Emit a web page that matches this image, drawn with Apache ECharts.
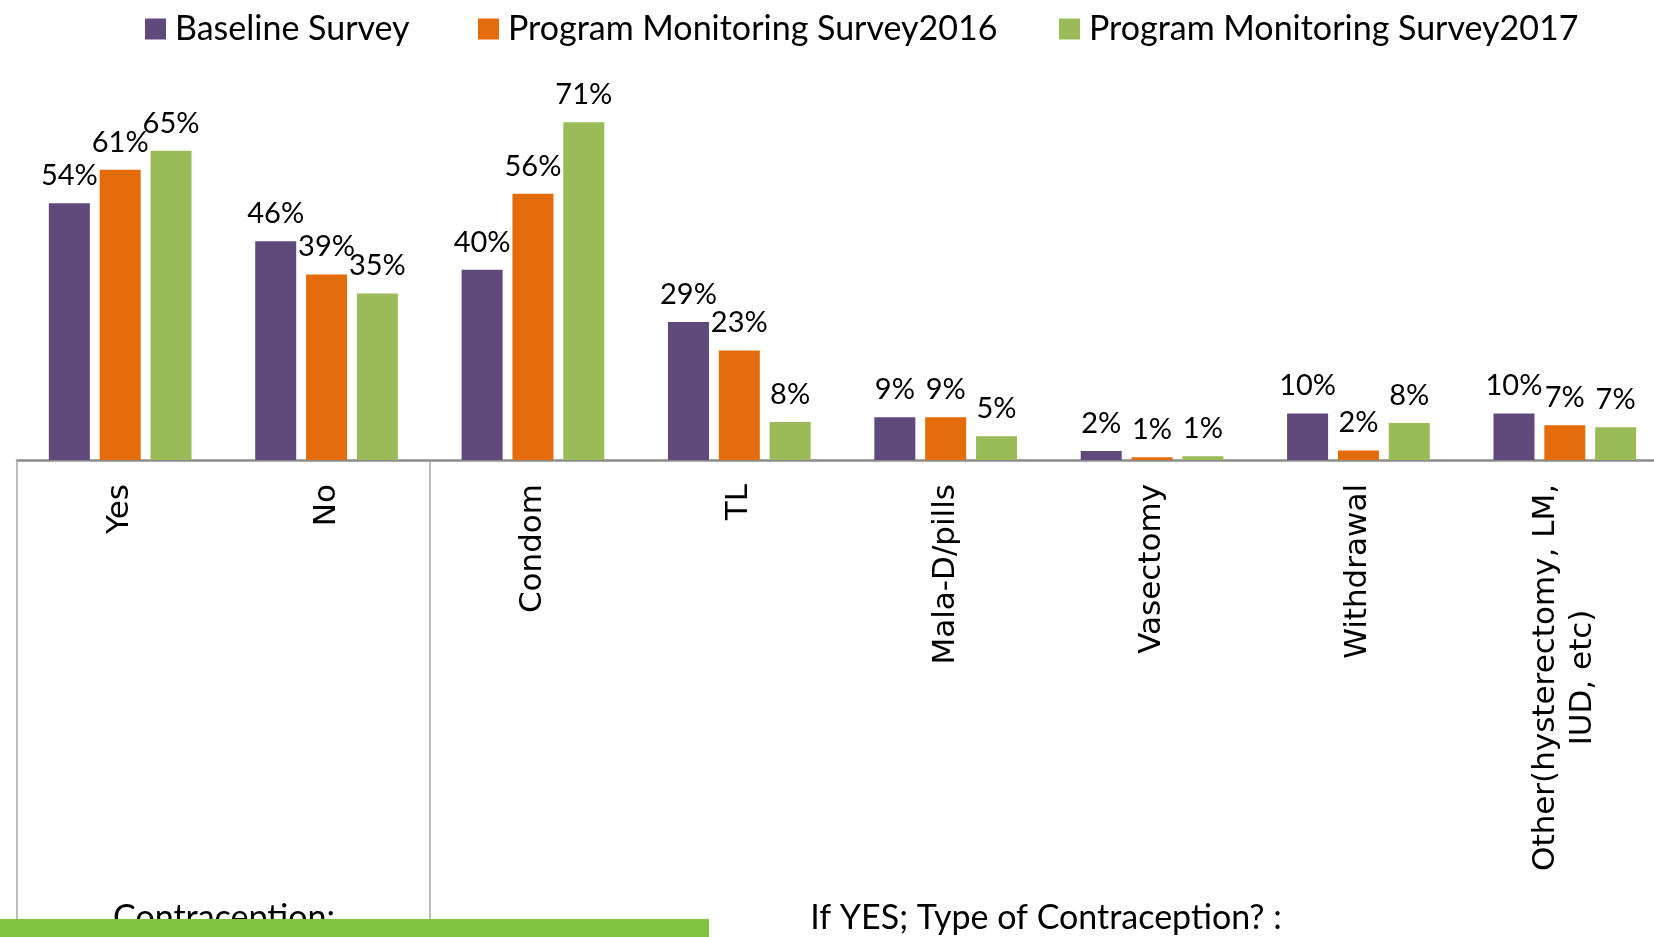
<!DOCTYPE html>
<html>
<head>
<meta charset="utf-8">
<script src="https://cdn.jsdelivr.net/npm/echarts@6/dist/echarts.min.js"></script>
<style>
  html, body { margin: 0; padding: 0; background: #fff; }
  #main { width: 1654px; height: 937px; }
</style>
</head>
<body>
<div id="main"></div>
<script>
var categories = ['Yes', 'No', 'Condom', 'TL', 'Mala-D/pills', 'Vasectomy', 'Withdrawal',
  'Other(hysterectomy, LM,\nIUD, etc)'];
var seriesNames = ['Baseline Survey', 'Program Monitoring Survey2016', 'Program Monitoring Survey2017'];
var baseline = [54, 46, 40, 29, 9, 1.9, 9.8, 9.8];
var pms2016 = [61, 39, 56, 23, 9, 0.6, 2, 7.3];
var pms2017 = [65, 35, 71, 8, 5, 0.8, 7.8, 6.9];
var groupLabels = ['Contraception:', 'If YES; Type of Contraception? :'];

var colors = ['#604a7b', '#e46c0a', '#9bbb59'];
var values = [baseline, pms2016, pms2017];
var legendLeft = [145, 478, 1059];

var chart = echarts.init(document.getElementById('main'));

var option = {
  animation: false,
  // plot runs past the right edge (chart is cropped there)
  grid: { left: 17, width: 1651, top: 79.5, height: 380.5, outerBoundsMode: 'none', containLabel: false },
  legend: seriesNames.map(function (name, i) {
    return {
      left: legendLeft[i],
      top: 9,
      padding: 0,
      icon: 'rect',
      itemWidth: 21,
      itemHeight: 21,
      data: [name],
      textStyle: { fontFamily: 'Lato', fontSize: 34, color: '#000', lineHeight: 40, padding: [0, 0, 0, 4] }
    };
  }),
  xAxis: {
    type: 'category',
    data: categories,
    axisLine: { lineStyle: { color: '#8c8c8c', width: 2.5 } },
    axisTick: {
      show: true,
      length: 480,
      interval: function (index) { return index === 0 || index === 2; },
      lineStyle: { color: '#a6a6a6', width: 1.5 }
    },
    axisLabel: {
      rotate: 90,
      margin: 24,
      interval: 0,
      fontFamily: 'DejaVu Sans',
      fontSize: 31,
      color: '#000',
      formatter: function (v) {
        return v.split('\n').map(function (s) { return '{c|' + s + '}'; }).join('\n');
      },
      rich: {
        c: { align: 'center', fontFamily: 'DejaVu Sans', fontSize: 31, lineHeight: 37, color: '#000' }
      }
    }
  },
  yAxis: { type: 'value', min: 0, max: 80, show: false },
  series: seriesNames.map(function (name, i) {
    return {
      name: name,
      type: 'bar',
      data: values[i],
      barWidth: 41,
      barGap: '24%',
      itemStyle: { color: colors[i] },
      label: {
        show: true,
        position: 'top',
        distance: 13,
        fontFamily: 'Lato',
        fontSize: 29,
        color: '#000',
        formatter: function (p) { return Math.round(p.value) + '%'; }
      }
    };
  }),
  graphic: [
    {
      type: 'text', z: 1,
      style: { text: groupLabels[0], x: 224, y: 918, align: 'center', verticalAlign: 'middle',
        font: '34px Lato', fill: '#000' }
    },
    {
      type: 'text', z: 1,
      style: { text: groupLabels[1], x: 1046, y: 918, align: 'center', verticalAlign: 'middle',
        font: '34px Lato', fill: '#000' }
    },
    {
      type: 'rect', z: 10,
      shape: { x: 0, y: 919, width: 709, height: 18 },
      style: { fill: '#82c341' }
    }
  ]
};

chart.setOption(option);
</script>
</body>
</html>
